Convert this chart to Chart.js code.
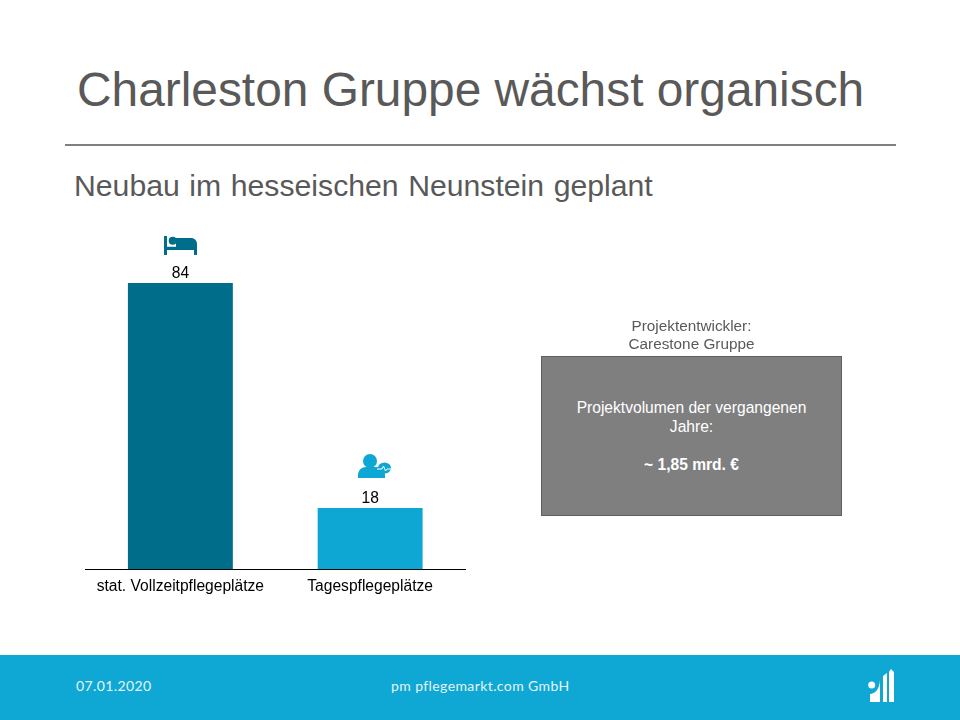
<!DOCTYPE html>
<html lang="de"><head><meta charset="utf-8">
<script src="https://cdn.jsdelivr.net/npm/chart.js@4"></script>
<style>
html,body{margin:0;padding:0;background:#fff}
body{position:relative;width:960px;height:720px;overflow:hidden;font-family:"Liberation Sans",Arial,sans-serif}
canvas#c{position:absolute;left:0;top:0}
.t{position:absolute;white-space:pre;line-height:1}
#title{left:77px;top:66px;font-size:47.85px;color:#595959}
#rule{position:absolute;left:65px;top:144px;width:831px;height:2px;background:#7f7f7f}
#sub{left:74px;top:171px;font-size:30.2px;word-spacing:1.2px;color:#595959}
#dev{left:541px;width:301px;top:317px;text-align:center;font-size:15.3px;line-height:18px;color:#595959}
#box{position:absolute;left:541px;top:356px;width:299px;height:158px;background:#7f7f7f;border:1px solid #5f5f5f}
#boxt{left:541px;width:301px;top:398px;text-align:center;font-size:15.6px;line-height:19px;color:#fff}
#foot{position:absolute;left:0;top:655px;width:960px;height:65px;background:#0fa8d4}
.f{font-family:Lato,"Open Sans",sans-serif;font-size:14px;color:#e4f5fa;top:679px;letter-spacing:.4px}
svg{position:absolute;overflow:visible}
</style></head><body>
<div id="title" class="t">Charleston Gruppe wächst organisch</div>
<div id="rule"></div>
<div id="sub" class="t">Neubau im hesseischen Neunstein geplant</div>
<canvas id="c" width="960" height="720"></canvas>
<div id="dev" class="t">Projektentwickler:
Carestone Gruppe</div>
<div id="box"></div>
<div id="boxt" class="t">Projektvolumen der vergangenen
Jahre:

<b>~ 1,85 mrd. €</b></div>
<div id="foot"></div>
<div class="t f" style="left:76px">07.01.2020</div>
<div class="t f" style="left:391px">pm pflegemarkt.com GmbH</div>
<svg style="left:164px;top:235px" width="34" height="21" viewBox="0 0 34 21" fill="#006d8a">
<path d="M0 1h3v10.700h9V3h15c3.500 0 6 2.500 6 6v11h-3v-5H3v5H0z"/><circle cx="8.700" cy="5.700" r="4"/></svg>
<svg style="left:358px;top:454px" width="34" height="26" viewBox="0 0 34 26" fill="#0ea7d3">
<circle cx="12" cy="7" r="7"/><path d="M0 24v-3c0-4 3-8 8-8h11c4 0 8 3 8 8v3z"/>
<ellipse cx="26.500" cy="14" rx="6.500" ry="5.500"/>
<path d="M19 15h5l1.500-3 2 5 1.500-2h4" fill="none" stroke="#fff" stroke-width="1"/></svg>
<svg style="left:868px;top:669px" width="27" height="35" viewBox="0 0 27 35" fill="#fff">
<circle cx="3.700" cy="16" r="3.500"/><path d="M2 33V25c5 0 9.500-5 10-14v22zM15 33V7l4-3v29zM21 33V3l2-3 3 3v30z"/></svg>
<script>
const categories = ["stat. Vollzeitpflegeplätze", "Tagespflegeplätze"];
const values = [84, 18];
const barColors = ["#006d8a", "#0ea7d3"];
const valueLabels = {
  id: "valueLabels",
  afterDatasetsDraw(chart) {
    const ctx = chart.ctx;
    ctx.save();
    ctx.font = '15.6px "Liberation Sans"';
    ctx.fillStyle = "#000";
    ctx.textAlign = "center";
    ctx.textBaseline = "middle";
    chart.getDatasetMeta(0).data.forEach((bar, i) => ctx.fillText(String(values[i]), bar.x, bar.y - 9.500));
    ctx.restore();
  }
};
new Chart(document.getElementById("c"), {
  type: "bar",
  data: { labels: categories, datasets: [{ data: values, backgroundColor: barColors, barPercentage: 1, categoryPercentage: 0.553 }] },
  options: {
    responsive: false, animation: false, devicePixelRatio: 1,
    layout: { padding: { left: 85.5, right: 495, top: 228.5, bottom: 116 } },
    plugins: { legend: { display: false }, tooltip: { enabled: false } },
    scales: {
      x: {
        grid: { display: false, drawTicks: false },
        border: { color: "#000", width: 1 },
        ticks: { color: "#000", font: { family: "Liberation Sans", size: 15.6 }, padding: 8, maxRotation: 0, autoSkip: false }
      },
      y: { display: false, min: 0, max: 100 }
    }
  },
  plugins: [valueLabels]
});
</script>
</body></html>
